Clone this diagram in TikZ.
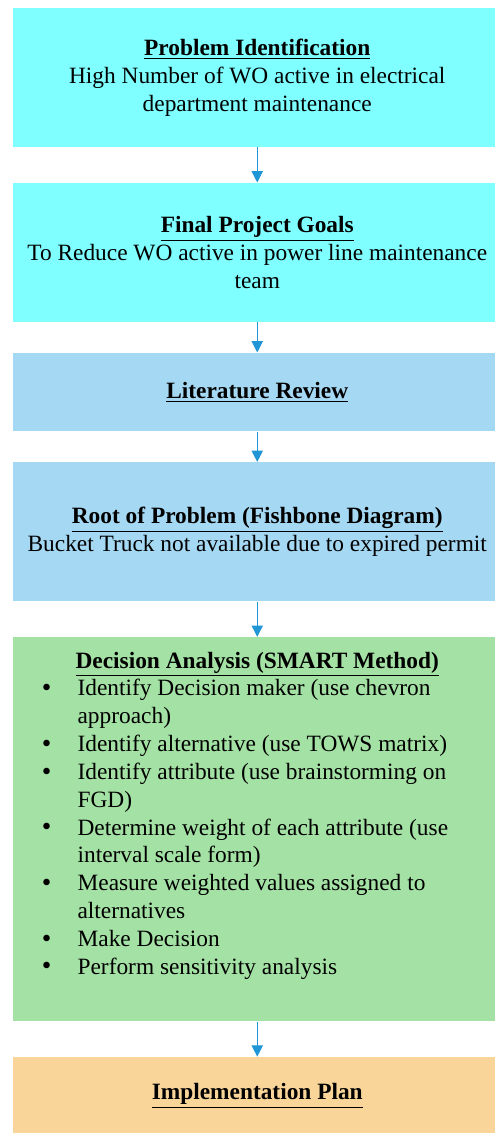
\documentclass[tikz,border=0pt]{standalone}
\usepackage{fontspec}
\setmainfont{Liberation Serif}
\usetikzlibrary{positioning, arrows.meta}
\definecolor{aqua}{RGB}{127,255,255}
\definecolor{skyblue}{RGB}{165,216,242}
\definecolor{mintgreen}{RGB}{164,225,164}
\definecolor{peach}{RGB}{250,213,154}
\definecolor{arrowblue}{RGB}{33,150,215}
\newcommand{\hd}[1]{\underline{\textbf{#1}}}
\newcommand{\bitem}[1]{\makebox[221.1pt][l]{\makebox[18.3pt][l]{\raisebox{-0.3pt}{\fontsize{14pt}{14pt}\selectfont\textbullet}}#1}}
\newcommand{\bcont}[1]{\makebox[221.1pt][l]{\hspace{18.3pt}#1}}

\begin{document}
\begin{tikzpicture}[node distance=18pt,
  txt/.style={inner sep=0pt, align=center, font=\fontsize{12pt}{14.3pt}\selectfont},
  stage/.style={txt, minimum width=251.3pt},
  flow/.style={color=arrowblue, line width=0.55pt, -{Triangle[width=5.8pt,length=5.8pt]}}]
  \useasboundingbox (0,0) rectangle (253.7pt,-581.8pt);
  \node[stage, fill=aqua, minimum height=71.2pt, anchor=north] (ident) at (132.1pt,-4.1pt)
    {\hd{Problem Identification}\\High Number of WO active in electrical\\department maintenance};
  \node[stage, fill=aqua, minimum height=71.3pt, below=of ident] (goals)
    {\hd{Final Project Goals}\\To Reduce WO active in power line maintenance\\team};
  \node[stage, fill=skyblue, minimum height=40.2pt, below=15.6pt of goals] (lit) {\hd{Literature Review}};
  \node[stage, fill=skyblue, minimum height=71.4pt, below=15.6pt of lit] (root)
    {\hd{Root of Problem (Fishbone Diagram)}\\Bucket Truck not available due to expired permit};
  \node[stage, fill=mintgreen, minimum height=197.2pt, below=of root] (smart) {};
  \node[txt, anchor=north] (smartlist) at ([yshift=-7.5pt]smart.north)
    {\hd{Decision Analysis (SMART Method)}\\
     \bitem{Identify Decision maker (use chevron}\\
     \bcont{approach)}\\
     \bitem{Identify alternative (use TOWS matrix)}\\
     \bitem{Identify attribute (use brainstorming on}\\
     \bcont{FGD)}\\
     \bitem{Determine weight of each attribute (use}\\
     \bcont{interval scale form)}\\
     \bitem{Measure weighted values assigned to}\\
     \bcont{alternatives}\\
     \bitem{Make Decision}\\
     \bitem{Perform sensitivity analysis}};
  \node[stage, fill=peach, minimum height=40.3pt, below=of smart] (impl) {\hd{Implementation Plan}};
  \path[flow]
    (ident) edge (goals)
    (goals) edge (lit)
    (lit)   edge (root)
    (root)  edge (smart)
    (smart) edge (impl);
\end{tikzpicture}
\end{document}
